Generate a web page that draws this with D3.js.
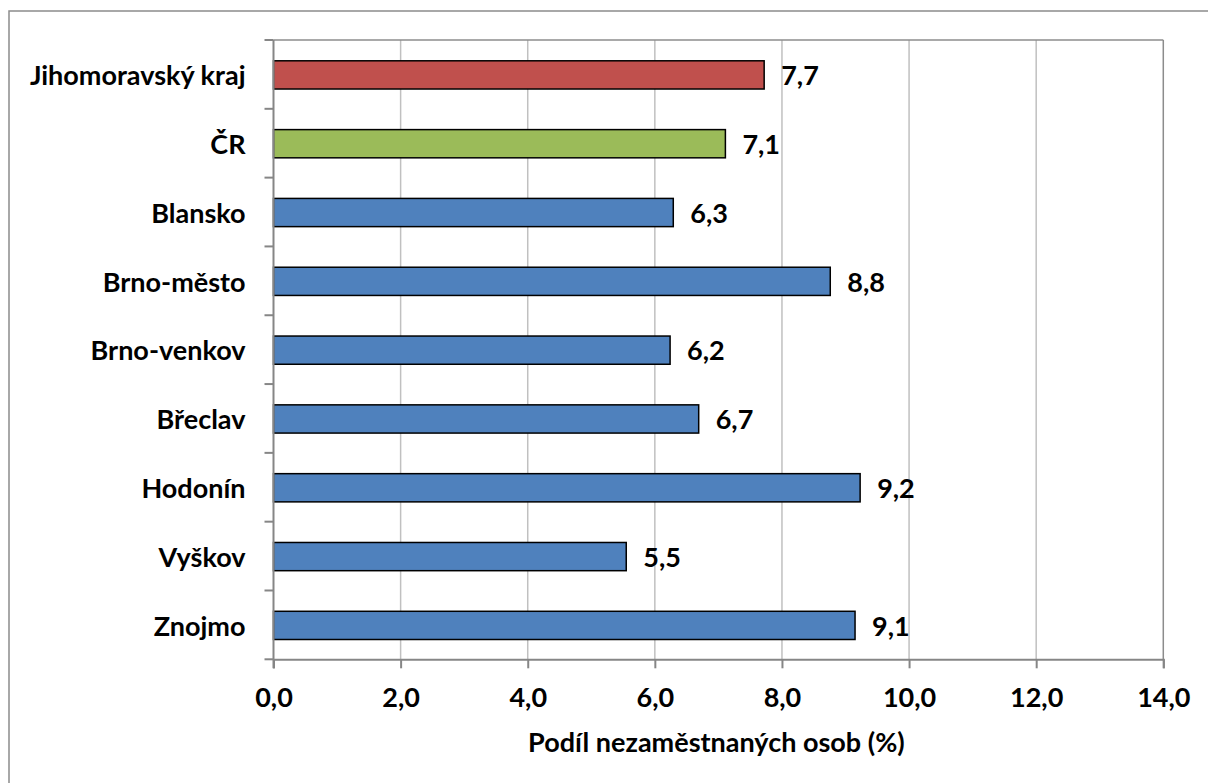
<!DOCTYPE html>
<html>
<head>
<meta charset="utf-8">
<script src="https://cdn.jsdelivr.net/npm/d3@7"></script>
<style>
  html, body { margin: 0; padding: 0; background: #fff; }
  svg { display: block; }
  text { font-family: Lato, "Open Sans", sans-serif; font-weight: 700; fill: #000; }
</style>
</head>
<body>
<svg id="chart" width="1208" height="783"></svg>
<script>
const categories = ["Jihomoravský kraj", "ČR", "Blansko", "Brno-město", "Brno-venkov", "Břeclav", "Hodonín", "Vyškov", "Znojmo"];
const values = [7.72, 7.11, 6.29, 8.76, 6.24, 6.69, 9.23, 5.55, 9.15];
const valueLabels = ["7,7", "7,1", "6,3", "8,8", "6,2", "6,7", "9,2", "5,5", "9,1"];
const barColors = ["#C0504D", "#9BBB59", "#4F81BD", "#4F81BD", "#4F81BD", "#4F81BD", "#4F81BD", "#4F81BD", "#4F81BD"];
const xTicks = [0, 2, 4, 6, 8, 10, 12, 14];
const xTitle = "Podíl nezaměstnaných osob (%)";

const svg = d3.select("#chart");
const pLeft = 273.5, pRight = 1163.3, pTop = 40, pBottom = 659.3;
const fontSize = 27;

// outer chart border (only left and top edges visible)
svg.append("rect").attr("x", 9).attr("y", 11).attr("width", 1300).attr("height", 900)
  .attr("fill", "none").attr("stroke", "#8c8c8c").attr("stroke-width", 1.5);

const x = d3.scaleLinear().domain([0, 14]).range([pLeft, pRight]);
const y = d3.scaleBand().domain(categories).range([pTop, pBottom]).padding(0);

// gridlines
svg.append("g").selectAll("line").data(xTicks.filter(t => t > 0 && t < 14)).join("line")
  .attr("x1", d => x(d)).attr("x2", d => x(d)).attr("y1", pTop).attr("y2", pBottom)
  .attr("stroke", "#c0c0c0").attr("stroke-width", 1.5);

// plot area border top & right
svg.append("line").attr("x1", pLeft).attr("x2", pRight).attr("y1", pTop).attr("y2", pTop)
  .attr("stroke", "#8c8c8c").attr("stroke-width", 1.5);
svg.append("line").attr("x1", pRight).attr("x2", pRight).attr("y1", pTop).attr("y2", pBottom)
  .attr("stroke", "#8c8c8c").attr("stroke-width", 1.5);

// bars
const bh = y.bandwidth() * 0.41;
svg.append("g").selectAll("rect").data(categories).join("rect")
  .attr("x", x(0))
  .attr("y", d => y(d) + (y.bandwidth() - bh) / 2 + 0.5)
  .attr("width", (d, i) => x(values[i]) - x(0))
  .attr("height", bh)
  .attr("fill", (d, i) => barColors[i])
  .attr("stroke", "#000").attr("stroke-width", 1.5);

// value labels
svg.append("g").selectAll("text").data(categories).join("text")
  .attr("x", (d, i) => x(values[i]) + 17)
  .attr("y", d => y(d) + y.bandwidth() / 2 + 1)
  .attr("dy", "0.36em")
  .attr("font-size", fontSize)
  .text((d, i) => valueLabels[i]);

// y axis
const yAxisG = svg.append("g");
yAxisG.append("line").attr("x1", pLeft).attr("x2", pLeft).attr("y1", pTop).attr("y2", pBottom + 9)
  .attr("stroke", "#868686").attr("stroke-width", 2);
const yTickPos = categories.map(c => y(c)).concat([pBottom]);
yAxisG.selectAll("line.tk").data(yTickPos).join("line").attr("class", "tk")
  .attr("x1", pLeft - 9).attr("x2", pLeft).attr("y1", d => d).attr("y2", d => d)
  .attr("stroke", "#868686").attr("stroke-width", 2);
yAxisG.selectAll("text").data(categories).join("text")
  .attr("x", pLeft - 28)
  .attr("y", d => y(d) + y.bandwidth() / 2 + 1)
  .attr("dy", "0.36em")
  .attr("text-anchor", "end")
  .attr("font-size", fontSize)
  .text(d => d);

// x axis
const xAxis = d3.axisBottom(x).tickValues(xTicks).tickSize(9).tickPadding(20)
  .tickFormat(d => d3.format(".1f")(d).replace(".", ","));
const xg = svg.append("g").attr("transform", `translate(0,${pBottom})`).call(xAxis);
xg.select(".domain").attr("stroke", "#868686").attr("stroke-width", 2);
xg.selectAll(".tick line").attr("stroke", "#868686").attr("stroke-width", 2);
xg.selectAll(".tick text").attr("font-size", fontSize).attr("font-family", "Lato, sans-serif")
  .attr("font-weight", 700).attr("fill", "#000");

// x title
svg.append("text").attr("x", (pLeft + pRight) / 2 - 2).attr("y", 752)
  .attr("text-anchor", "middle").attr("font-size", fontSize).text(xTitle);
</script>
</body>
</html>
